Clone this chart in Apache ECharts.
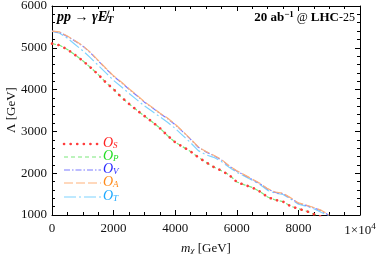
<!DOCTYPE html>
<html><head><meta charset="utf-8">
<script src="https://cdn.jsdelivr.net/npm/echarts@6/dist/echarts.min.js"></script>
<style>html,body{margin:0;padding:0;background:#fff}#c{width:382px;height:254px}</style>
</head><body><div id="c"></div>
<script>
const mx = [0,250,500,750,1000,1250,1500,1750,2000,2250,2500,2750,3000,3250,3500,3750,4000,4250,4500,4750,5000,5250,5500,5750,6000,6250,6500,6750,7000,7250,7500,7750,8000,8250,8500,8750,9000];
const valS = [5100,5060,4960,4830,4690,4530,4360,4170,4010,3820,3660,3510,3370,3230,3080,2900,2740,2630,2520,2380,2260,2150,2060,1960,1790,1720,1660,1560,1430,1360,1320,1210,1150,1095,1020,960,null];
const valP = [5100,5060,4960,4830,4690,4530,4360,4170,4010,3820,3660,3510,3370,3230,3080,2900,2740,2630,2520,2380,2260,2150,2060,1960,1790,1720,1660,1560,1430,1360,1320,1210,1150,1095,1020,960,null];
const valV = [5400,5370,5270,5160,5040,4880,4690,4500,4320,4170,4010,3860,3700,3570,3430,3310,3160,2990,2810,2620,2510,2420,2320,2170,2050,1950,1850,1750,1620,1540,1510,1400,1280,1230,1170,1100,990];
const valA = [5400,5380,5280,5170,5050,4890,4700,4510,4330,4180,4020,3870,3710,3580,3440,3320,3170,3000,2820,2630,2520,2430,2330,2180,2060,1960,1860,1760,1630,1550,1520,1410,1290,1240,1180,1110,1000];
const valT = [5390,5350,5230,5080,4930,4760,4580,4400,4220,4070,3910,3760,3610,3480,3350,3220,3070,2900,2730,2540,2440,2380,2280,2140,2020,1930,1830,1730,1590,1520,1490,1380,1260,1210,1150,1060,980];
const subs = ['S','P','V','A','T'];
const lineColors = ['#ff3b3b','#7be87b','#7a7aff','#ffb27a','#7fd4ff'];
const textColors = ['#ff2020','#22dd22','#2a2aff','#ff8a1a','#1aa8ff'];

const pairs = arr => mx.map((m,i)=>[m,arr[i]]);
const serif = 'Liberation Serif';
const chart = echarts.init(document.getElementById('c'));
const styles = [
  {type:[0.1,6.5], width:2.6, cap:'round'},
  {type:[4,3], width:1.2},
  {type:[6,2,1.5,2], width:1.2},
  {type:[9,3], width:1.2},
  {type:[12,3,2,3], width:1.2}
];
const vals = [valS,valP,valV,valA,valT];
const order = [1,0,4,2,3];
const series = order.map(k=>({
  type:'line', data:pairs(vals[k]), showSymbol:false, clip:true,
  lineStyle:Object.assign({color:lineColors[k]}, styles[k]),
  z: k===0?5:2, silent:true
}));

const axisLine = {show:true,onZero:false,lineStyle:{color:'#000',width:1}};
const axisTick = {show:true,inside:true,length:5,lineStyle:{color:'#000'}};
const graphics = [
  {type:'text', left:57, top:10, style:{text:'pp → γE̸{s|T}', rich:{s:{fontSize:10,fontWeight:'bold',fontStyle:'italic',fontFamily:serif,padding:[6,0,0,0]}}, font:'italic bold 14px '+serif, fill:'#000'}},
  {type:'text', right:27, top:10, style:{text:'{b|20 ab}{sp|−1}{n| @ }{b|LHC}{n|-25}', rich:{
     b:{fontSize:13,fontWeight:'bold',fontFamily:serif},
     sp:{fontSize:9,fontWeight:'bold',fontFamily:serif,verticalAlign:'top',padding:[0,0,6,0]},
     n:{fontSize:12,fontFamily:serif}
  }, fill:'#000'}},
  {type:'text', x:12, y:110, rotation:Math.PI/2, style:{text:'Λ [GeV]', font:'13px '+serif, fill:'#111', align:'center', verticalAlign:'middle'}}
];
const ly = [144,157,170,183,197];
for(let k=0;k<5;k++){
  graphics.push({type:'line', shape:{x1:64,y1:ly[k],x2:101,y2:ly[k]}, style:{stroke:lineColors[k], lineWidth:styles[k].width, lineDash:styles[k].type, lineCap:styles[k].cap||'butt'}});
  graphics.push({type:'text', left:103, top:ly[k]-8, style:{text:'{o|O}{s|'+subs[k]+'}', rich:{
     o:{fontSize:14,fontStyle:'italic',fontFamily:serif,fill:textColors[k]},
     s:{fontSize:9,fontStyle:'italic',fontFamily:serif,fill:textColors[k],padding:[6,0,0,0]}
  }}});
}
const lbl = {fontSize:13,fontFamily:serif,color:'#111'};
chart.setOption({
  animation:false,
  grid:{left:52,right:22,top:6,bottom:39,containLabel:false,outerBoundsMode:'none'},
  xAxis:[
    {type:'value',min:0,max:10000,interval:2000,position:'bottom',
      axisLine, axisTick, splitLine:{show:false},
      minorTick:{show:true,splitNumber:4,length:3,lineStyle:{color:'#000'}},
      name:'{i|m}{s|χ}{n| [GeV]}', nameLocation:'middle', nameGap:21,
      nameTextStyle:{rich:{i:{fontSize:13,fontStyle:'italic',fontFamily:serif,color:'#111'},s:{fontSize:9,fontStyle:'italic',fontFamily:serif,color:'#111',padding:[5,0,0,0]},n:{fontSize:13,fontFamily:serif,color:'#111'}}},
      axisLabel:Object.assign({margin:7,
        formatter:v=> v===10000 ? '1×10{sup|4}' : String(v),
        rich:{sup:{fontSize:9,fontFamily:serif,color:'#111',verticalAlign:'top',padding:[0,0,8,0]}}}, lbl)
    },
    {type:'value',min:0,max:10000,interval:2000,position:'top',
      axisLine, axisTick,
      minorTick:{show:true,splitNumber:4,length:3,lineStyle:{color:'#000'}},
      axisLabel:{show:false}, splitLine:{show:false}}
  ],
  yAxis:[
    {type:'value',min:1000,max:6000,interval:1000,position:'left',
      axisLine, axisTick,
      minorTick:{show:true,splitNumber:5,length:3,lineStyle:{color:'#000'}},
      splitLine:{show:false},
      axisLabel:Object.assign({margin:5,formatter:v=>String(v)}, lbl)},
    {type:'value',min:1000,max:6000,interval:1000,position:'right',
      axisLine, axisTick,
      minorTick:{show:true,splitNumber:5,length:3,lineStyle:{color:'#000'}},
      splitLine:{show:false}, axisLabel:{show:false}}
  ],
  graphic:graphics,
  series:series
});
</script></body></html>
